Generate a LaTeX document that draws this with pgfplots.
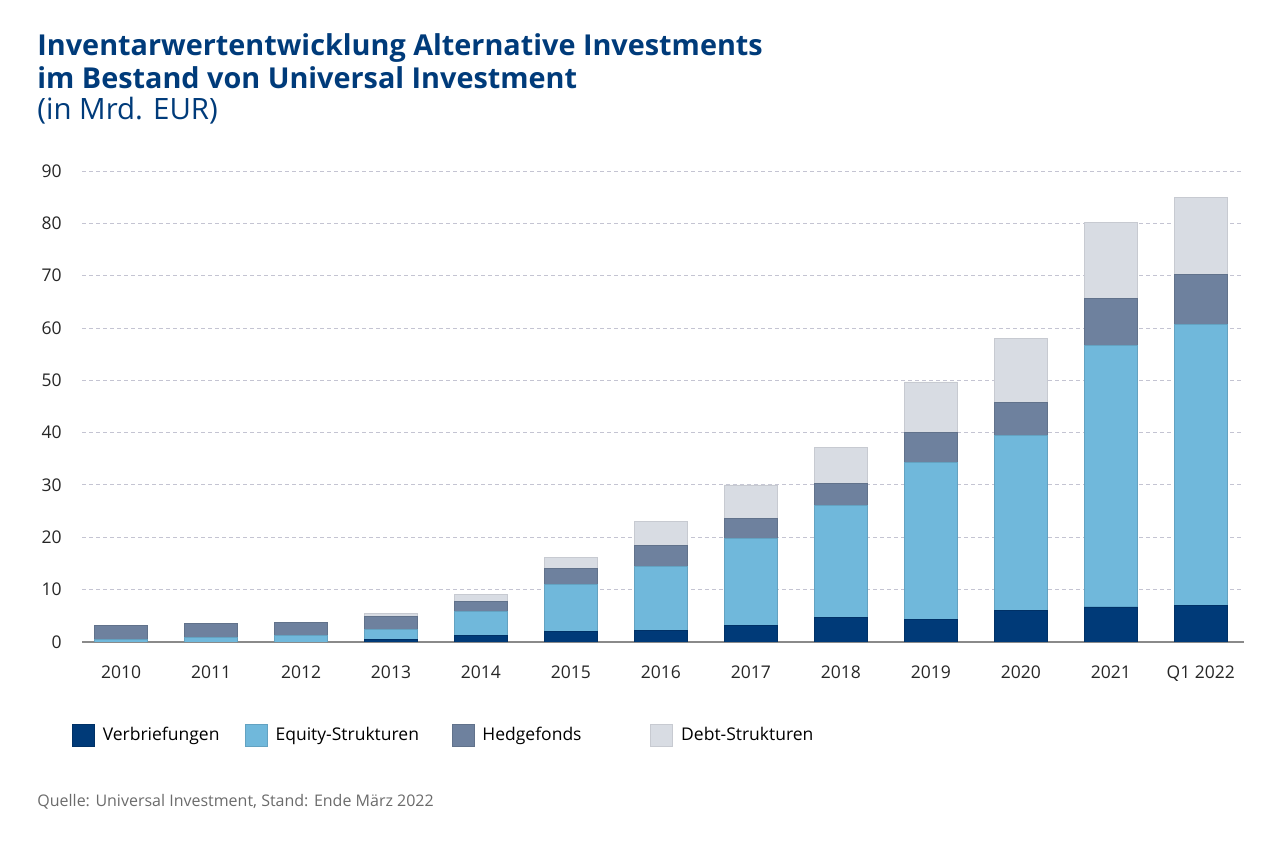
\documentclass[border=0pt]{standalone}
\usepackage{fontspec}
\setmainfont{Open Sans}
\usepackage{pgfplots}
\usepackage{pgfplotstable}
\pgfplotsset{compat=1.18}

\definecolor{verb}{HTML}{003A78}
\definecolor{equity}{HTML}{70B8DB}
\definecolor{hedge}{HTML}{6E819E}
\definecolor{debt}{HTML}{D8DCE3}
\definecolor{titleblue}{HTML}{003B7A}
\definecolor{gridgray}{HTML}{C4C4D2}
\definecolor{axisgray}{HTML}{8A8A8A}
\definecolor{srcgray}{HTML}{6B6B6B}

% values in Mrd. EUR, read off the chart
\pgfplotstableread{
x  V    E     H    D
0  0.0  0.5   2.7  0.0
1  0.0  0.9   2.7  0.0
2  0.0  1.3   2.5  0.0
3  0.5  1.9   2.5  0.6
4  1.3  4.6   1.9  1.3
5  2.0  9.0   3.1  2.1
6  2.2  12.2  4.1  4.6
7  3.2  16.6  3.8  6.4
8  4.7  21.4  4.2  6.9
9  4.3  30.0  5.7  9.7
10 6.1  33.4  6.3  12.2
11 6.7  50.0  9.0  14.5
12 6.9  53.8  9.6  14.6
}\aidata

\pgfplotsset{
  sqlegend/.style={legend image code/.code={\draw[##1] (0pt,-5.5pt) rectangle (11pt,5.5pt);}},
}

\begin{document}
\begin{tikzpicture}
\useasboundingbox (0,0) rectangle (640pt,422.5pt);

\node[anchor=base west, inner sep=0pt, text=titleblue, font=\fontsize{14.4}{16}\selectfont\bfseries]
  at (18.5pt,394.5pt) {Inventarwertentwicklung Alternative Investments};
\node[anchor=base west, inner sep=0pt, text=titleblue, font=\fontsize{14.4}{16}\selectfont\bfseries]
  at (18.5pt,378.2pt) {im Bestand von Universal Investment};
\node[anchor=base west, inner sep=0pt, text=titleblue, font=\fontsize{14.7}{16}\selectfont]
  at (18.5pt,362.5pt) {(in Mrd. EUR)};

\begin{axis}[
  at={(41pt,101.5pt)}, anchor=south west,
  scale only axis, width=581pt, height=235.5pt,
  ybar stacked, bar width=26.7pt,
  xmin=-0.434, xmax=12.48, ymin=0, ymax=90,
  xtick={0,...,12},
  xticklabels={2010,2011,2012,2013,2014,2015,2016,2017,2018,2019,2020,2021,Q1 2022},
  ytick={0,10,...,90},
  axis x line*=bottom, axis y line*=left,
  y axis line style={draw=none},
  x axis line style={draw=axisgray, line width=0.6pt},
  major tick length=0pt, tick style={draw=none},
  ymajorgrids,
  grid style={gridgray, dash pattern=on 2pt off 1.5pt, line width=0.5pt},
  ticklabel style={font=\fontsize{8.75}{10}\selectfont, text=black!85},
  yticklabel style={anchor=east, inner sep=0pt, xshift=-10pt},
  xticklabel style={anchor=north, inner sep=0pt, yshift=-11.8pt},
  /pgf/number format/assume math mode=true,
  every axis plot post/.append style={sqlegend},
  legend columns=4,
  legend cell align=left,
  legend style={at={(axis description cs:-0.0086,-0.1975)}, anchor=west,
    draw=none, fill=none, inner sep=0pt, outer sep=0pt,
    font=\fontsize{8.75}{10}\selectfont,
    nodes={inner sep=0pt, anchor=west},
    /tikz/every odd column/.append style={column sep=4pt},
    /tikz/every even column/.append style={column sep=0pt}},
]
\addplot[fill=verb, draw=verb!85!black, line width=0.4pt] table[x=x, y=V] {\aidata};
\addlegendentry{\makebox[71pt][l]{Verbriefungen}}
\addplot[fill=equity, draw=equity!88!black, line width=0.4pt] table[x=x, y=E] {\aidata};
\addlegendentry{\makebox[88pt][l]{Equity-Strukturen}}
\addplot[fill=hedge, draw=hedge!88!black, line width=0.4pt] table[x=x, y=H] {\aidata};
\addlegendentry{\makebox[84pt][l]{Hedgefonds}}
\addplot[fill=debt, draw=debt!92!black, line width=0.4pt] table[x=x, y=D] {\aidata};
\addlegendentry{Debt-Strukturen}
\end{axis}

\node[anchor=base west, inner sep=0pt, text=srcgray, font=\fontsize{8}{9}\selectfont]
  at (18.5pt,19pt) {Quelle: Universal Investment, Stand: Ende März 2022};
\end{tikzpicture}
\end{document}
